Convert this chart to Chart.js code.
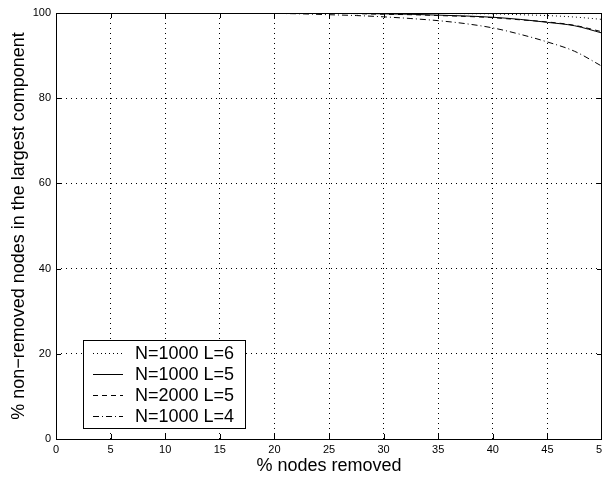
<!DOCTYPE html>
<html>
<head>
<meta charset="utf-8">
<script src="https://cdn.jsdelivr.net/npm/chart.js@4.4.0/dist/chart.umd.min.js"></script>
<style>
    html, body { margin: 0; padding: 0; background: #fff; }
    #wrap { width: 602px; height: 477px; }
</style>
</head>
<body>
<div id="wrap"><canvas id="myChart" width="602" height="477"></canvas></div>
<script>
// % nodes removed
let removed = [0, 2.5, 5, 7.5, 10, 12.5, 15, 17.5, 20, 22.5, 25, 27.5, 30, 32.5, 35, 37.5, 40, 42.5, 45, 47.5, 50];

// % non-removed nodes in the largest component
let n1000L6 = [100, 100, 100, 100, 100, 100, 100, 100, 100, 100, 100, 100, 100, 99.95, 99.9, 99.85, 99.8, 99.6, 99.4, 99.05, 98.5];
let n1000L5 = [100, 100, 100, 100, 100, 100, 100, 100, 100, 100, 99.95, 99.9, 99.8, 99.7, 99.5, 99.3, 99.0, 98.5, 97.8, 97.0, 95.3];
let n2000L5 = [100, 100, 100, 100, 100, 100, 100, 100, 100, 100, 99.95, 99.85, 99.7, 99.6, 99.4, 99.2, 98.9, 98.4, 97.9, 97.1, 95.6];
let n1000L4 = [100, 100, 100, 100, 100, 100, 100, 99.95, 99.9, 99.8, 99.6, 99.4, 99.1, 98.7, 98.2, 97.5, 96.5, 95.0, 93.2, 91.0, 87.5];

let labels = ['N=1000 L=6', 'N=1000 L=5', 'N=2000 L=5', 'N=1000 L=4'];
let dashes = [[1, 3], [], [5, 4], [6, 3, 1, 3]];
let series = [n1000L6, n1000L5, n2000L5, n1000L4];

let xTicks = [0, 5, 10, 15, 20, 25, 30, 35, 40, 45, 50];
let yTicks = [0, 20, 40, 60, 80, 100];

const FONT = 'Liberation Sans, Arial, Helvetica, sans-serif';

function toPoints(ys) {
    return ys.map((y, i) => ({ x: removed[i], y: y }));
}

let datasets = [];
for (let i = 0; i < series.length; i++) {
    datasets.push({
        label: labels[i],
        data: toPoints(series[i]),
        borderColor: '#000',
        backgroundColor: '#000',
        borderWidth: 1,
        borderDash: dashes[i],
        pointRadius: 0,
        cubicInterpolationMode: 'monotone',
        fill: false,
    });
}

// matlab style box, inward ticks and legend
const boxPlugin = {
    id: 'boxPlugin',
    afterDatasetsDraw(chart) {
        let ctx = chart.ctx;
        let a = chart.chartArea;
        let xs = chart.scales.x;
        let ys = chart.scales.y;
        ctx.save();
        ctx.strokeStyle = '#000';
        ctx.lineWidth = 1;
        ctx.setLineDash([]);
        ctx.beginPath();
        xTicks.forEach(v => {
            let px = Math.round(xs.getPixelForValue(v)) + 0.5;
            ctx.moveTo(px, a.bottom); ctx.lineTo(px, a.bottom - 5);
            ctx.moveTo(px, a.top); ctx.lineTo(px, a.top + 5);
        });
        yTicks.forEach(v => {
            let py = Math.round(ys.getPixelForValue(v)) + 0.5;
            ctx.moveTo(a.left, py); ctx.lineTo(a.left + 5, py);
            ctx.moveTo(a.right, py); ctx.lineTo(a.right - 5, py);
        });
        ctx.stroke();
        ctx.strokeRect(Math.round(a.left) + 0.5, Math.round(a.top) + 0.5,
            Math.round(a.right - a.left) - 1, Math.round(a.bottom - a.top));

        // legend
        let lx = 83, ly = 340, lw = 162, lh = 88;
        ctx.fillStyle = '#fff';
        ctx.fillRect(lx, ly, lw, lh);
        ctx.strokeRect(lx + 0.5, ly + 0.5, lw, lh);
        ctx.font = '18px ' + FONT;
        ctx.textAlign = 'right';
        ctx.textBaseline = 'middle';
        ctx.fillStyle = '#000';
        chart.data.datasets.forEach((ds, i) => {
            let y = ly + 13 + i * 21 + 0.5;
            ctx.setLineDash(ds.borderDash);
            ctx.beginPath();
            ctx.moveTo(lx + 10, y);
            ctx.lineTo(lx + 40, y);
            ctx.stroke();
            ctx.setLineDash([]);
            ctx.fillText(ds.label, lx + 151, y + 1);
        });
        ctx.restore();
    }
};

const config = {
    type: 'line',
    data: { datasets: datasets },
    options: {
        responsive: false,
        animation: false,
        layout: { padding: { left: 0, right: 0, top: 13, bottom: 0 } },
        plugins: {
            legend: { display: false },
            tooltip: { enabled: false },
        },
        scales: {
            x: {
                type: 'linear',
                min: 0,
                max: 50,
                afterBuildTicks: s => { s.ticks = xTicks.map(v => ({ value: v })); },
                afterFit: s => { s.height = 38; s.paddingRight = 0; s.paddingLeft = 0; },
                ticks: {
                    color: '#000',
                    font: { family: FONT, size: 11 },
                    padding: 4,
                    maxRotation: 0,
                },
                grid: { color: '#000', lineWidth: 1, drawTicks: false },
                border: { display: false, dash: [1, 4] },
                title: {
                    display: true,
                    text: '% nodes removed',
                    color: '#000',
                    font: { family: FONT, size: 18 },
                    padding: { top: 0, bottom: 0 },
                },
            },
            y: {
                type: 'linear',
                min: 0,
                max: 100,
                afterBuildTicks: s => { s.ticks = yTicks.map(v => ({ value: v })); },
                afterFit: s => { s.width = 56; s.paddingTop = 0; s.paddingBottom = 0; },
                ticks: {
                    color: '#000',
                    font: { family: FONT, size: 11 },
                    padding: 5,
                },
                grid: { color: '#000', lineWidth: 1, drawTicks: false },
                border: { display: false, dash: [1, 4] },
                title: {
                    display: true,
                    text: '% non\u2212removed nodes in the largest component',
                    color: '#000',
                    font: { family: FONT, size: 18 },
                    padding: { top: 8, bottom: 0 },
                },
            },
        },
    },
    plugins: [boxPlugin],
};

let myChart;

function init() {
    myChart = new Chart(document.getElementById('myChart'), config);
}

init();
</script>
</body>
</html>
